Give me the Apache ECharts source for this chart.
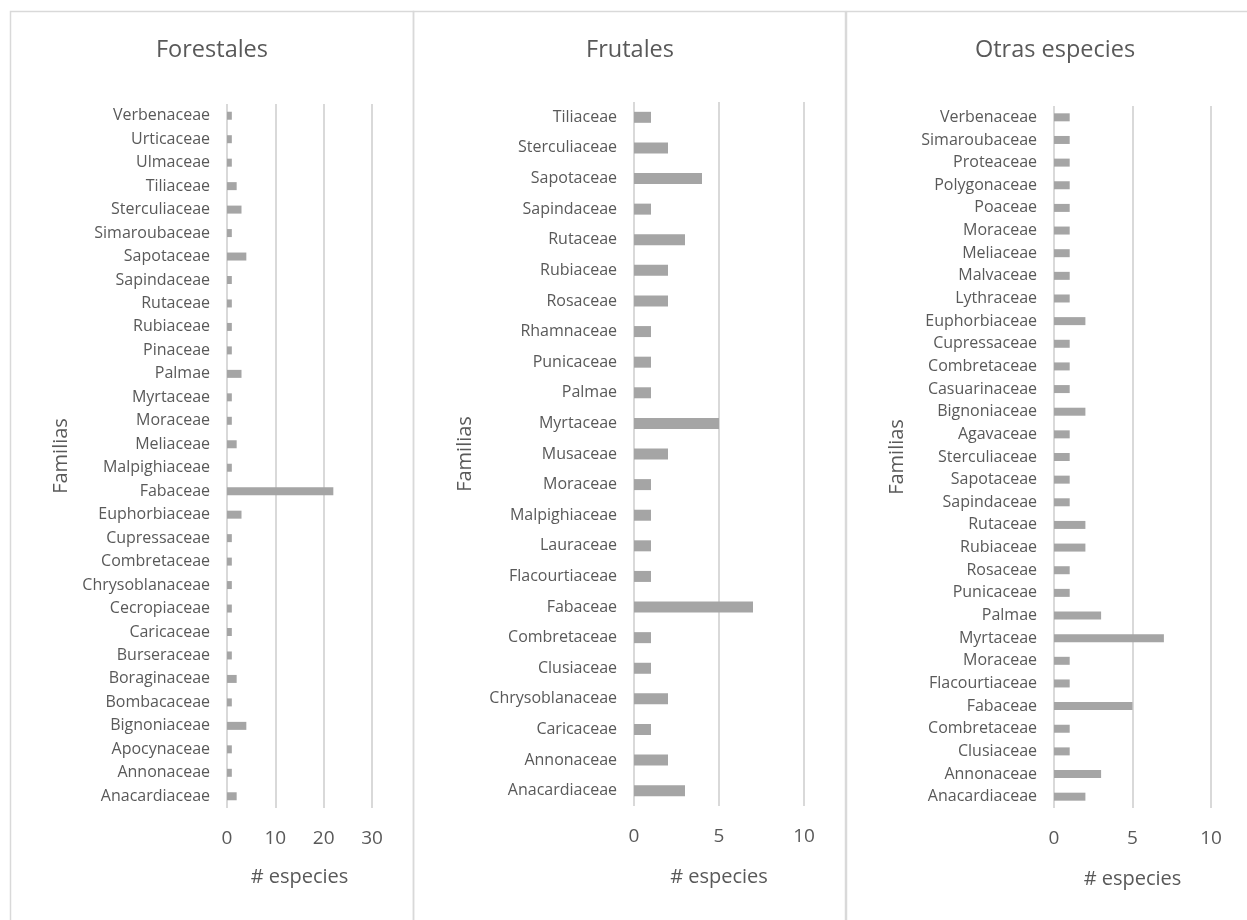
<!DOCTYPE html>
<html>
<head>
<meta charset="utf-8">
<script src="https://cdn.jsdelivr.net/npm/echarts@6/dist/echarts.min.js"></script>
<style>html,body{margin:0;padding:0;background:#fff}#c{width:1247px;height:920px}</style>
</head>
<body>
<div id="c"></div>
<script>
// Panel titles
const titles = ['Forestales', 'Frutales', 'Otras especies'];
const yAxisName = 'Familias';
const xAxisName = '# especies';

// Forestales (bottom to top)
const forCats = ['Anacardiaceae','Annonaceae','Apocynaceae','Bignoniaceae','Bombacaceae','Boraginaceae','Burseraceae','Caricaceae','Cecropiaceae','Chrysoblanaceae','Combretaceae','Cupressaceae','Euphorbiaceae','Fabaceae','Malpighiaceae','Meliaceae','Moraceae','Myrtaceae','Palmae','Pinaceae','Rubiaceae','Rutaceae','Sapindaceae','Sapotaceae','Simaroubaceae','Sterculiaceae','Tiliaceae','Ulmaceae','Urticaceae','Verbenaceae'];
const forVals = [2,1,1,4,1,2,1,1,1,1,1,1,3,22,1,2,1,1,3,1,1,1,1,4,1,3,2,1,1,1];
const forTicks = [0,10,20,30];

// Frutales (bottom to top)
const fruCats = ['Anacardiaceae','Annonaceae','Caricaceae','Chrysoblanaceae','Clusiaceae','Combretaceae','Fabaceae','Flacourtiaceae','Lauraceae','Malpighiaceae','Moraceae','Musaceae','Myrtaceae','Palmae','Punicaceae','Rhamnaceae','Rosaceae','Rubiaceae','Rutaceae','Sapindaceae','Sapotaceae','Sterculiaceae','Tiliaceae'];
const fruVals = [3,2,1,2,1,1,7,1,1,1,1,2,5,1,1,1,2,2,3,1,4,2,1];
const fruTicks = [0,5,10];

// Otras especies (bottom to top)
const otrCats = ['Anacardiaceae','Annonaceae','Clusiaceae','Combretaceae','Fabaceae','Flacourtiaceae','Moraceae','Myrtaceae','Palmae','Punicaceae','Rosaceae','Rubiaceae','Rutaceae','Sapindaceae','Sapotaceae','Sterculiaceae','Agavaceae','Bignoniaceae','Casuarinaceae','Combretaceae','Cupressaceae','Euphorbiaceae','Lythraceae','Malvaceae','Meliaceae','Moraceae','Poaceae','Polygonaceae','Proteaceae','Simaroubaceae','Verbenaceae'];
const otrVals = [2,3,1,1,5,1,1,7,3,1,1,2,2,1,1,1,1,2,1,1,1,2,1,1,1,1,1,1,1,1,1];
const otrTicks = [0,5,10];

const FONT = '"Open Sans", "Noto Sans", sans-serif';
const TXT = '#595959';
const GRID = '#d9d9d9';
const BAR = '#a5a5a5';

const panels = [
  {cats: forCats, vals: forVals, ticks: forTicks, grid: {left: 227, top: 104, width: 145, height: 704}, barW: 8, nameGap: 156, xNameGap: 59, titleX: 207},
  {cats: fruCats, vals: fruVals, ticks: fruTicks, grid: {left: 634, top: 102, width: 170, height: 704}, barW: 11, nameGap: 159, xNameGap: 61, titleX: 625},
  {cats: otrCats, vals: otrVals, ticks: otrTicks, grid: {left: 1054, top: 106, width: 157, height: 702}, barW: 8, nameGap: 147, xNameGap: 61, titleX: 1050}
];

const chart = echarts.init(document.getElementById('c'), null, {renderer: 'canvas'});

const option = {
  backgroundColor: '#fff',
  animation: false,
  title: panels.map((p, i) => ({
    text: titles[i], left: p.titleX, top: 33, textAlign: 'center',
    textStyle: {fontFamily: FONT, fontSize: 23.5, fontWeight: 'normal', color: TXT}
  })),
  grid: panels.map(p => Object.assign({containLabel: false}, p.grid)),
  xAxis: panels.map((p, i) => ({
    type: 'value', gridIndex: i,
    min: p.ticks[0], max: p.ticks[p.ticks.length - 1], interval: p.ticks[1] - p.ticks[0],
    name: xAxisName, nameLocation: 'middle', nameGap: p.xNameGap,
    nameTextStyle: {fontFamily: FONT, fontSize: 20, color: TXT},
    axisLine: {show: false}, axisTick: {show: false},
    axisLabel: {fontFamily: FONT, fontSize: 19, color: TXT, margin: 21},
    splitLine: {show: true, lineStyle: {color: GRID, width: 2}}
  })),
  yAxis: panels.map((p, i) => ({
    type: 'category', gridIndex: i, data: p.cats,
    name: yAxisName, nameLocation: 'middle', nameGap: p.nameGap, nameRotate: 90,
    nameTextStyle: {fontFamily: FONT, fontSize: 20, color: TXT},
    axisLine: {show: false}, axisTick: {show: false},
    axisLabel: {fontFamily: FONT, fontSize: 16, color: TXT, margin: 17, interval: 0},
    splitLine: {show: false}
  })),
  series: panels.map((p, i) => ({
    type: 'bar', xAxisIndex: i, yAxisIndex: i, data: p.vals,
    barWidth: p.barW, itemStyle: {color: BAR}, silent: true
  })),
  graphic: [
    {type: 'rect', shape: {x: 10.5, y: 11.5, width: 403, height: 940}, style: {fill: 'none', stroke: GRID, lineWidth: 1.5}, z: -1},
    {type: 'rect', shape: {x: 413.5, y: 11.5, width: 432, height: 940}, style: {fill: 'none', stroke: GRID, lineWidth: 1.5}, z: -1},
    {type: 'rect', shape: {x: 846.5, y: 11.5, width: 420, height: 940}, style: {fill: 'none', stroke: GRID, lineWidth: 1.5}, z: -1}
  ]
};
chart.setOption(option);
</script>
</body>
</html>
